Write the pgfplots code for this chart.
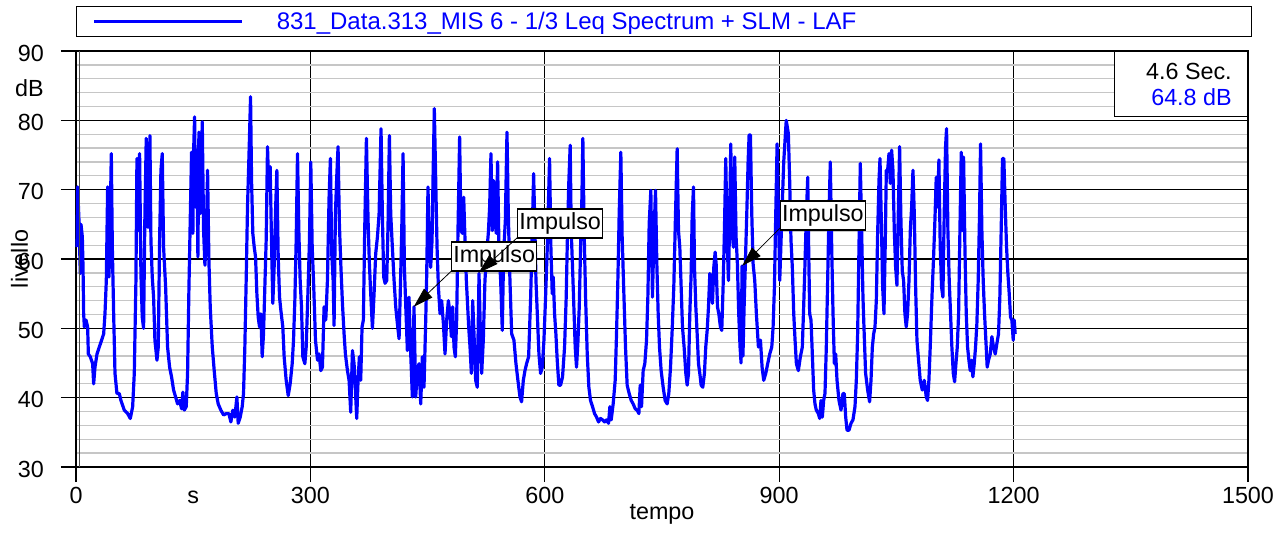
\documentclass[border=0pt]{standalone}
\usepackage{fontspec}
\setmainfont{Liberation Sans}
\usepackage{pgfplots}
\usepackage{pgfplotstable}
\pgfplotsset{compat=1.18}
\usetikzlibrary{arrows.meta}
\pgfplotstableread{
t L
1.3 61.7
2.1 70.4
3.8 65.6
5.5 57.9
6.4 65.0
8.1 63.2
9.0 58.8
9.8 52.1
10.7 50.2
12.8 51.2
14.9 50.2
15.8 46.3
18.3 45.9
21.3 44.9
22.6 42.0
24.3 44.4
26.9 46.3
29.8 47.3
32.8 48.3
35.4 49.2
37.1 52.1
38.8 56.9
40.5 70.4
42.2 57.4
43.9 66.5
45.2 75.2
46.5 61.7
48.2 52.1
49.9 43.5
52.4 40.6
55.4 40.6
57.5 39.6
61.8 38.2
66.1 37.7
69.5 37.0
72.5 38.7
74.6 43.5
76.7 56.9
78.0 74.5
79.7 64.1
81.4 75.2
83.1 57.9
84.8 51.6
86.5 50.0
88.2 66.5
89.9 77.4
91.7 64.6
93.4 64.6
94.6 77.8
95.9 62.7
97.6 57.4
99.3 54.5
101.0 48.3
103.6 45.4
105.3 47.3
107.0 62.7
108.7 72.8
110.4 75.2
112.1 61.7
114.7 56.0
117.2 47.3
119.8 44.4
122.3 43.0
124.9 41.1
127.5 40.1
130.0 39.1
132.6 39.6
135.1 38.4
136.8 40.8
138.6 38.2
141.1 38.7
142.8 43.5
144.5 55.5
146.2 65.6
147.9 75.4
149.6 63.7
150.5 75.4
151.8 80.5
153.0 67.5
154.7 75.7
156.0 60.3
157.3 78.3
158.6 66.5
159.9 69.9
161.6 79.8
163.3 64.1
165.0 59.1
166.7 62.7
168.4 72.8
170.1 59.8
171.8 53.1
174.4 47.3
176.9 43.9
179.5 40.6
182.0 39.1
185.4 38.2
188.9 37.5
192.3 37.7
195.7 37.7
198.2 36.5
200.8 38.2
203.3 37.2
205.9 40.1
207.6 36.3
210.2 37.2
212.7 38.7
214.4 40.6
216.1 47.3
217.8 56.9
219.5 67.5
221.7 76.2
223.4 83.4
224.7 71.3
226.3 63.7
228.1 61.7
229.8 60.3
231.5 55.0
233.2 51.6
234.9 50.2
236.6 52.1
238.3 45.9
240.0 49.2
241.7 56.0
243.4 62.7
245.1 76.2
246.8 69.9
248.5 73.3
250.2 62.7
251.9 53.6
253.6 58.8
255.4 67.0
257.1 72.8
258.8 60.3
260.5 54.5
262.2 52.6
264.7 50.2
266.4 45.9
269.0 42.5
271.6 40.3
274.1 42.0
276.7 44.9
278.4 48.3
280.1 54.0
281.8 62.7
283.5 75.2
285.2 64.1
286.9 56.9
288.6 53.1
290.3 45.9
292.9 44.9
294.6 47.3
297.1 56.0
298.8 62.7
300.5 74.0
302.3 61.7
304.0 56.9
306.5 48.3
309.1 45.4
311.1 46.3
313.3 43.9
315.4 44.4
317.5 53.1
319.7 51.2
321.8 56.9
323.9 68.9
325.6 74.5
327.3 60.8
329.1 56.9
330.3 50.4
332.0 66.5
333.7 71.8
335.4 76.2
337.1 65.1
338.9 59.3
341.0 53.6
343.1 49.2
344.8 46.3
347.4 43.9
349.5 42.5
351.6 37.9
353.8 46.8
355.9 44.9
358.0 40.1
359.3 37.0
361.0 42.5
362.7 45.9
364.4 42.5
366.1 50.2
367.8 51.2
369.5 64.1
371.7 77.4
373.8 65.6
375.5 59.3
377.2 55.0
379.4 50.0
381.5 55.0
383.6 60.8
385.8 63.2
387.9 66.5
390.4 78.8
392.1 66.5
393.8 57.4
395.6 56.5
397.7 56.9
399.4 65.1
401.1 77.8
402.8 66.5
404.9 61.7
407.1 56.9
409.2 53.1
411.3 50.7
413.5 48.5
415.2 56.0
416.9 64.1
418.6 75.2
420.3 58.8
422.4 52.1
424.1 46.8
426.2 54.5
428.4 46.3
430.5 40.1
432.6 53.1
434.8 40.1
436.9 43.9
439.0 44.9
441.2 39.1
443.3 45.9
445.4 41.5
447.6 51.2
448.8 57.4
450.5 70.4
452.2 61.7
453.9 58.8
455.7 62.7
456.9 71.3
458.6 81.7
460.4 71.3
462.1 61.7
463.8 56.0
465.9 52.1
468.0 54.0
470.2 50.7
472.3 46.3
474.4 51.2
476.6 54.0
478.7 52.1
480.4 48.8
482.1 53.1
483.8 47.3
485.5 45.9
487.2 51.2
488.9 64.1
491.0 77.6
492.7 64.1
494.5 63.7
496.2 68.9
497.9 62.7
499.6 56.9
500.9 54.0
502.6 50.2
504.3 47.3
506.0 43.5
507.7 54.0
509.4 49.2
511.5 42.5
513.6 41.5
515.8 57.9
517.5 49.7
519.2 43.5
521.3 48.3
523.4 56.9
525.6 60.8
527.7 63.7
529.4 67.5
531.1 75.2
532.8 64.1
534.5 71.3
536.2 65.6
537.9 63.7
539.6 74.0
541.3 61.7
543.5 56.9
545.6 49.7
547.3 60.8
549.5 65.6
551.6 78.3
553.3 66.5
555.4 56.9
557.6 49.2
560.5 48.3
563.1 44.9
565.6 42.5
568.2 40.1
570.3 39.4
572.5 42.5
574.6 43.9
576.7 44.9
579.3 45.9
581.9 54.5
584.0 64.1
585.7 72.3
587.4 64.1
588.7 56.9
590.4 52.1
592.5 46.3
594.6 43.5
596.8 44.4
598.9 48.3
601.0 54.5
603.2 61.7
606.1 74.5
607.8 61.7
609.5 55.0
610.8 57.4
612.5 52.1
614.2 49.2
615.9 45.4
618.0 41.8
620.2 41.8
622.7 43.0
625.3 47.3
627.4 54.5
629.1 64.1
630.8 71.3
632.5 76.4
633.8 64.1
635.5 58.8
637.2 53.1
638.9 47.3
640.6 44.4
642.3 47.8
644.1 53.1
645.8 61.7
647.5 68.9
648.7 77.4
650.4 63.7
652.2 54.5
654.3 46.3
656.4 41.5
658.5 39.6
661.1 38.7
663.7 37.7
666.2 37.2
668.8 36.5
671.3 37.0
673.9 36.8
676.5 36.5
679.0 36.8
681.6 36.3
683.3 38.7
685.0 36.8
687.5 39.1
690.1 42.5
691.8 49.2
693.5 56.9
695.2 66.5
697.3 75.4
699.0 63.2
701.2 55.0
703.3 47.3
705.4 41.8
708.0 40.6
710.6 39.6
713.1 39.1
715.7 38.4
718.2 38.2
720.4 37.7
722.1 41.8
723.8 38.7
725.9 43.9
728.0 44.9
730.2 48.3
731.9 54.5
733.6 65.1
735.7 69.9
737.8 54.5
739.5 62.7
741.7 69.9
743.4 59.3
745.1 52.1
746.8 47.3
748.9 43.9
751.5 41.5
754.0 39.6
756.6 39.1
758.7 40.6
760.9 44.4
763.0 49.7
765.1 56.0
767.3 66.5
769.4 75.9
771.1 64.1
772.8 61.7
774.5 56.0
776.2 50.2
778.3 47.3
780.5 43.5
782.2 41.8
783.9 43.5
785.6 52.1
787.3 57.9
788.6 66.1
790.3 70.4
791.6 58.8
793.3 53.1
795.0 49.2
796.7 44.9
798.4 43.5
800.1 41.8
802.2 41.5
804.3 43.5
806.0 47.3
807.8 49.7
809.5 53.1
811.2 57.9
812.9 56.9
814.6 53.6
816.3 58.8
818.0 61.0
819.3 59.3
821.0 53.1
822.7 52.1
824.8 50.2
826.5 49.7
828.2 56.0
829.9 64.1
831.6 74.5
833.3 63.2
835.0 56.9
836.3 63.7
838.0 76.6
839.7 64.1
841.4 61.7
843.1 74.7
844.8 63.2
846.5 59.3
848.2 52.1
849.9 47.3
851.2 45.0
852.5 59.0
853.6 46.0
855.1 53.1
856.8 59.8
858.5 66.5
860.2 74.0
861.5 77.9
863.2 77.9
864.9 66.5
866.6 59.3
868.7 56.9
870.8 52.1
873.4 47.3
876.0 48.3
878.1 44.4
880.2 42.5
882.8 43.5
885.3 44.9
887.9 46.3
890.5 47.3
892.2 50.2
893.9 56.0
895.6 66.5
897.3 76.6
899.0 66.5
900.7 56.9
902.4 62.7
904.1 68.5
905.8 74.0
909.0 80.0
911.7 78.1
913.4 71.3
915.1 62.7
916.8 58.8
918.6 52.1
920.3 48.3
922.0 44.9
924.5 43.9
927.1 45.9
929.6 47.3
931.3 53.1
933.0 59.3
934.8 66.5
936.5 71.8
937.7 61.7
939.0 52.1
940.7 51.2
942.4 46.3
944.1 41.1
945.8 39.1
947.5 38.2
950.1 37.7
951.8 37.0
953.5 39.6
955.2 37.2
956.9 39.6
958.6 40.6
960.3 47.3
962.0 56.9
963.7 66.5
965.4 74.0
967.2 61.7
968.9 52.1
970.6 44.9
972.3 46.3
974.0 42.5
976.5 39.6
979.1 38.2
981.6 40.6
983.3 40.6
985.1 37.2
986.8 35.3
989.3 35.3
991.9 36.3
994.4 36.8
997.0 38.7
998.7 42.5
1000.4 49.2
1002.1 61.7
1003.8 73.8
1005.5 64.1
1007.2 54.5
1008.9 48.8
1010.6 43.5
1013.2 41.1
1015.7 39.4
1017.5 42.5
1019.2 47.3
1020.9 49.2
1022.6 50.2
1024.3 54.0
1026.0 63.7
1027.7 71.3
1029.0 74.5
1030.7 65.6
1032.4 56.0
1034.1 52.1
1035.8 62.7
1037.1 72.8
1038.8 72.8
1040.5 75.2
1042.2 70.9
1043.9 75.7
1045.6 72.8
1047.3 64.1
1049.0 58.8
1050.7 56.2
1052.4 66.5
1054.1 76.2
1055.8 65.6
1057.5 58.3
1059.2 56.9
1060.9 52.1
1062.6 50.2
1064.3 52.1
1066.1 56.9
1067.8 64.1
1069.5 67.5
1071.2 72.8
1072.9 66.5
1074.6 56.0
1076.3 48.3
1078.0 45.9
1080.5 42.5
1083.1 41.1
1085.7 42.5
1088.2 40.1
1089.9 39.6
1091.6 42.5
1093.3 47.3
1095.5 54.5
1097.6 60.3
1099.3 65.6
1101.0 71.8
1102.7 67.5
1104.4 74.3
1106.1 61.7
1107.8 56.0
1109.5 54.5
1111.2 66.5
1112.9 76.2
1114.2 78.8
1115.9 64.1
1117.6 56.9
1119.3 52.1
1121.0 47.3
1122.8 43.5
1124.5 42.3
1126.2 44.9
1127.9 47.3
1129.6 52.1
1131.3 64.1
1133.0 75.4
1134.7 64.1
1136.0 74.7
1137.7 61.7
1139.4 52.1
1141.1 47.3
1142.8 45.4
1144.5 43.9
1146.2 45.4
1147.9 43.0
1149.6 44.9
1151.3 47.3
1153.0 50.7
1154.7 56.9
1156.4 66.5
1157.7 76.6
1159.4 64.1
1161.1 56.9
1162.8 52.1
1164.5 48.3
1166.2 44.4
1167.9 45.4
1170.1 46.3
1172.2 48.8
1174.3 47.3
1176.5 46.3
1178.6 47.8
1180.7 49.2
1182.4 54.5
1184.1 64.1
1185.8 74.5
1187.5 74.5
1189.3 67.5
1191.0 61.7
1192.7 57.9
1194.4 55.0
1196.1 51.6
1197.8 51.2
1199.5 48.3
1200.8 51.2
1202.0 49.2
}\leqdata
\begin{document}
\begin{tikzpicture}
\path[use as bounding box] (-57pt,-54pt) rectangle (907.5pt,350.25pt);
\begin{axis}[
  at={(0pt,0pt)}, anchor=south west,
  scale only axis, width=879pt, height=312pt,
  xmin=0, xmax=1500, ymin=30, ymax=90,
  clip=false,
  xtick={0,300,600,900,1200,1500},
  ytick={30,40,50,60,70,80,90},
  minor y tick num=4,
  extra x ticks={150}, extra x tick labels={s},
  extra x tick style={grid=none, major tick style={draw=none}},
  extra y ticks={85}, extra y tick labels={dB},
  extra y tick style={grid=none, major tick style={draw=none}},
  ymajorgrids, xmajorgrids, yminorgrids,
  major grid style={black, line width=0.9pt},
  minor grid style={gray!45, line width=0.95pt},
  minor tick length=0pt,
  major tick length=11.25pt,
  tick align=outside,
  xtick pos=bottom, ytick pos=left,
  tick style={black, line width=0.9pt},
  axis line style={black, line width=1.6pt},
  font=\fontsize{17.5}{21}\selectfont,
  /pgf/number format/assume math mode=true,
  /pgf/number format/set thousands separator={},
  scaled ticks=false,
  yticklabel style={anchor=east, inner sep=0pt, xshift=-12.75pt, yshift=-1.5pt},
  xticklabel style={anchor=base, inner sep=0pt, yshift=-15.75pt},
  xlabel={tempo}, ylabel={livello},
  xlabel style={at={(axis description cs:0.5,-0.1274)}, anchor=base},
  ylabel style={at={(axis description cs:-0.041,0.5)}, anchor=base, rotate=0},
  legend style={at={([yshift=10.5pt]axis description cs:0,1)}, anchor=south west,
    draw=black, line width=0.9pt, inner xsep=12pt, inner ysep=4pt,
    font=\fontsize{18}{21}\selectfont, text=blue,
    nodes={inner sep=0pt}},
  legend image code/.code={\draw[#1] (0pt,0pt) -- (111pt,0pt);},
]
\addplot[blue, line width=2.4pt, line join=round] table[x=t, y=L] {\leqdata};
\addlegendentry{\makebox[744pt][l]{\hspace*{24.75pt}831\_Data.313\_MIS 6 - 1/3 Leq Spectrum + SLM - LAF}}
\addplot[black!70, line width=0.9pt, forget plot] coordinates {(4.6,30) (4.6,90)};
% Impulso annotations
\node[draw=black, fill=white, line width=0.8pt, minimum width=63.75pt, minimum height=21.75pt, inner sep=0pt] at (axis cs:535.2,60.36) {Impulso};
\draw[black, line width=0.6pt, -{Triangle[length=15pt, width=9pt]}] (axis cs:480.8,58.3) -- (axis cs:432.2,53.1);
\node[draw=black, fill=white, line width=0.8pt, minimum width=63.75pt, minimum height=21.75pt, inner sep=0pt] at (axis cs:619.6,65.12) {Impulso};
\draw[black, line width=0.6pt, -{Triangle[length=15pt, width=9pt]}] (axis cs:564.8,63.07) -- (axis cs:515.3,58.0);
\node[draw=black, fill=white, line width=0.8pt, minimum width=63.75pt, minimum height=21.75pt, inner sep=0pt] at (axis cs:955.9,66.27) {Impulso};
\draw[black, line width=0.6pt, -{Triangle[length=15pt, width=9pt]}] (axis cs:901.5,64.5) -- (axis cs:852.6,59.0);
% cursor info box
\draw[black, fill=white, line width=0.9pt] (axis cs:1329,80.5) rectangle (axis cs:1500,90);
\node[anchor=base east, inner sep=0pt] at (axis cs:1479.5,85.82) {4.6 Sec.};
\node[anchor=base east, inner sep=0pt, text=blue] at (axis cs:1479.5,82.07) {64.8 dB};
\end{axis}
\end{tikzpicture}
\end{document}
